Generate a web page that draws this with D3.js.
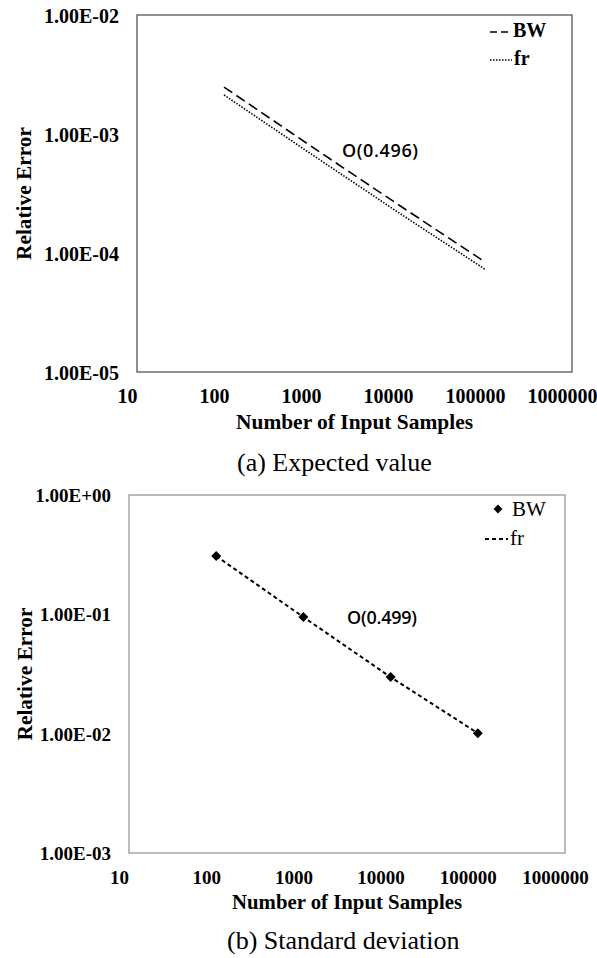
<!DOCTYPE html>
<meta charset="utf-8">
<style>
body { margin: 0; background: #fff; }
svg text { font-family: "Liberation Serif", "Times New Roman", serif; fill: #000; }
.tick text { font-weight: bold; }
.title { font-weight: bold; font-size: 21px; }
.caption { font-size: 26px; }
.note { font-family: "Open Sans", "Noto Sans", sans-serif !important; font-size: 18px; font-weight: 600; }
</style>
<body>
<svg width="597" height="958"></svg>
<script src="https://cdn.jsdelivr.net/npm/d3@7"></script>
<script>

// sample sizes on the x axis
var samples = [100, 1000, 10000, 100000];

// (a) expected value, relative error
var bwMean = [2.48e-3, 7.9e-4, 2.56e-4, 8.4e-5];
var frMean = [2.13e-3, 6.8e-4, 2.2e-4, 7.3e-5];

// (b) standard deviation, relative error
var bwStd = [0.308, 0.0948, 0.0298, 0.0101];
var frStd = [0.308, 0.0948, 0.0298, 0.0101];

var xTicks = [10, 100, 1000, 10000, 100000, 1000000];
var xTickLabels = ["10", "100", "1000", "10000", "100000", "1000000"];

var yTicksMean = [1e-5, 1e-4, 1e-3, 1e-2];
var yLabelsMean = ["1.00E-05", "1.00E-04", "1.00E-03", "1.00E-02"];
var yTicksStd = [1e-3, 1e-2, 1e-1, 1];
var yLabelsStd = ["1.00E-03", "1.00E-02", "1.00E-01", "1.00E+00"];

var svg = d3.select("svg");

function panel(opt) {
  var g = svg.append("g");
  var x = d3.scaleLog().domain([10, 1e6]).range([opt.left, opt.right]);
  var y = d3.scaleLog().domain([opt.yTicks[0], opt.yTicks[opt.yTicks.length - 1]])
      .range([opt.bottom, opt.top]);

  g.append("rect")
      .attr("x", opt.left).attr("y", opt.top)
      .attr("width", opt.right - opt.left).attr("height", opt.bottom - opt.top)
      .attr("fill", "none").attr("stroke", opt.boxColor).attr("stroke-width", 1.3);

  // x axis labels (sit a little left of their tick, like the original)
  var xa = g.append("g")
      .attr("transform", "translate(0," + opt.bottom + ")")
      .call(d3.axisBottom(x).tickValues(xTicks).tickSize(0)
        .tickFormat(function(d, i) { return xTickLabels[i]; }));
  xa.select(".domain").remove();
  xa.selectAll("text").attr("dx", -10).attr("dy", 0).attr("y", opt.xLabelDy)
      .style("font-size", opt.tickSize + "px");

  var ya = g.append("g")
      .attr("transform", "translate(" + opt.left + ",0)")
      .call(d3.axisLeft(y).tickValues(opt.yTicks).tickSize(0)
        .tickFormat(function(d, i) { return opt.yLabels[i]; }));
  ya.select(".domain").remove();
  ya.selectAll("text").attr("x", -18).attr("dy", "0.35em")
      .style("font-size", opt.tickSize + "px");

  g.append("text").attr("class", "title")
      .attr("x", (opt.left + opt.right) / 2).attr("y", opt.xTitleY)
      .attr("text-anchor", "middle")
      .attr("textLength", opt.xTitleLen).attr("lengthAdjust", "spacingAndGlyphs")
      .text("Number of Input Samples");

  g.append("text").attr("class", "title")
      .attr("transform", "translate(" + opt.yTitleX + "," + (opt.top + opt.bottom) / 2 + ") rotate(-90)")
      .attr("text-anchor", "middle")
      .attr("textLength", 133).attr("lengthAdjust", "spacingAndGlyphs")
      .text("Relative Error");

  g.append("text").attr("class", "caption")
      .attr("x", opt.captionX).attr("y", opt.captionY)
      .text(opt.caption);

  return {g: g, x: x, y: y};
}

// ---------- (a) expected value ----------
var a = panel({
  left: 137, right: 572, top: 15, bottom: 372, tickSize: 20,
  yTicks: yTicksMean, yLabels: yLabelsMean, boxColor: "#555",
  xLabelDy: 31, xTitleY: 429, xTitleLen: 237, yTitleX: 31,
  caption: "(a) Expected value", captionX: 237, captionY: 471
});

var lineA = d3.line()
    .x(function(d) { return a.x(d[0]); })
    .y(function(d) { return a.y(d[1]); });

a.g.append("path")
    .datum(d3.zip(samples, bwMean))
    .attr("d", lineA).attr("fill", "none")
    .attr("stroke", "#000").attr("stroke-width", 1.6)
    .attr("stroke-dasharray", "10,5");

a.g.append("path")
    .datum(d3.zip(samples, frMean))
    .attr("d", lineA).attr("fill", "none")
    .attr("stroke", "#000").attr("stroke-width", 1.6)
    .attr("stroke-dasharray", "1.5,1.5");

a.g.append("text").attr("class", "note")
    .attr("x", 342).attr("y", 157).attr("textLength", 76)
    .text("O(0.496)");

// legend
a.g.append("line").attr("x1", 490).attr("x2", 512).attr("y1", 32).attr("y2", 32)
    .attr("stroke", "#000").attr("stroke-width", 1.6).attr("stroke-dasharray", "7,4");
a.g.append("text").attr("x", 513).attr("y", 37)
    .attr("font-weight", "bold").attr("font-size", 20).text("BW");
a.g.append("line").attr("x1", 490).attr("x2", 512).attr("y1", 60).attr("y2", 60)
    .attr("stroke", "#000").attr("stroke-width", 1.6).attr("stroke-dasharray", "1.5,1.5");
a.g.append("text").attr("x", 514).attr("y", 65)
    .attr("font-weight", "bold").attr("font-size", 20).text("fr");

// ---------- (b) standard deviation ----------
var b = panel({
  left: 129, right: 565, top: 495, bottom: 853, tickSize: 19,
  yTicks: yTicksStd, yLabels: yLabelsStd, boxColor: "#999",
  xLabelDy: 31, xTitleY: 909, xTitleLen: 230, yTitleX: 32,
  caption: "(b) Standard deviation", captionX: 227, captionY: 949
});

var lineB = d3.line()
    .x(function(d) { return b.x(d[0]); })
    .y(function(d) { return b.y(d[1]); });

b.g.append("path")
    .datum(d3.zip(samples, frStd))
    .attr("d", lineB).attr("fill", "none")
    .attr("stroke", "#000").attr("stroke-width", 2)
    .attr("stroke-dasharray", "4,3");

var diamond = d3.symbol().type(d3.symbolDiamond2).size(64);
b.g.selectAll(".pt")
    .data(d3.zip(samples, bwStd))
    .enter().append("path")
      .attr("class", "pt")
      .attr("d", diamond)
      .attr("transform", function(d) { return "translate(" + b.x(d[0]) + "," + b.y(d[1]) + ")"; })
      .attr("fill", "#000");

b.g.append("text").attr("class", "note")
    .attr("x", 347).attr("y", 624).attr("textLength", 70)
    .text("O(0.499)");

// legend
b.g.append("path").attr("d", d3.symbol().type(d3.symbolDiamond2).size(50))
    .attr("transform", "translate(498,509)").attr("fill", "#000");
b.g.append("text").attr("x", 512).attr("y", 516).attr("font-size", 21).text("BW");
b.g.append("line").attr("x1", 485).attr("x2", 508).attr("y1", 539).attr("y2", 539)
    .attr("stroke", "#000").attr("stroke-width", 2).attr("stroke-dasharray", "4,3");
b.g.append("text").attr("x", 510).attr("y", 545).attr("font-size", 21).text("fr");

</script>
</body>
